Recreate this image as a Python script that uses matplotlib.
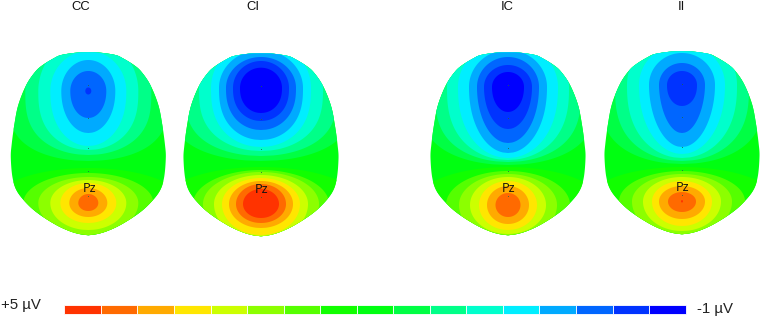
import matplotlib
matplotlib.use("Agg")
import matplotlib.pyplot as plt
from matplotlib.patches import Polygon
import numpy as np

plt.rcParams['font.family'] = ['Liberation Sans', 'DejaVu Sans']

# bandas de color, de -1 uV (azul) a +5 uV (rojo)
band_colors = ['#0000ff', '#0033ff', '#0066ff', '#00aaff', '#00eeff', '#00ffcc',
               '#00ff88', '#00ff44', '#00ff11', '#11ff00', '#55ff00', '#8cff00',
               '#ccff00', '#ffe600', '#ffaa00', '#ff6a00', '#ff3300']
base_band = 8

conditions = ['CC', 'CI', 'IC', 'II']
centers = [88.3, 261, 508, 682]
offsets = [0, 1, 0, -1]

# isolineas leidas de la imagen
# zona frontal: (banda, arriba, abajo, media anchura, forma), de fuera a dentro
cc_front = [(7, 10, 161, 80, 3.5), (6, 25, 155, 63, 2.9), (5, 38, 150, 50, 2.6), (4, 51, 146, 38, 2.3),
            (3, 60, 133, 27, 2.1), (2, 71, 118, 18, 2.1), (1, 87.5, 94.5, 3, 2)]
ci_front = [(7, 0, 161, 92, 3.5), (6, 15, 156, 76, 3.2), (5, 28, 151, 62, 2.8), (4, 40, 147, 50, 2.6),
            (3, 50, 140, 42, 2.5), (2, 57, 130, 35, 2.4), (1, 61, 121, 28, 2.4), (0, 67.7, 113, 21, 2.3)]
ic_front = [(7, 0, 165, 88, 3.5), (6, 15, 162, 73, 3.1), (5, 30, 160, 61, 2.6), (4, 42, 158, 50, 2.3),
            (3, 50, 153, 39, 2.1), (2, 57, 143, 31, 2.0), (1, 65, 129, 24, 2.0), (0, 72, 112, 16, 2.1)]
ii_front = [(7, 3, 164, 82, 3.3), (6, 18, 161, 67, 2.8), (5, 32, 158, 55, 2.4), (4, 44, 154, 43, 2.1),
            (3, 53, 147, 33, 1.9), (2, 63, 133, 23, 1.8), (1, 71, 106, 15, 2.2)]
front_mid = [91, 88, 87, 85]

# zona parietal: (banda, arriba, abajo, media anchura), de fuera a dentro
cc_back = [(9, 168, 260, 95), (10, 173, 242, 65), (11, 177, 235, 50), (12, 180, 230, 38),
           (13, 183, 223, 28), (14, 188, 217, 19), (15, 194, 211, 10)]
ci_back = [(9, 167, 265, 100), (10, 170, 252, 68), (11, 172, 246, 58), (12, 175, 240, 47),
           (13, 178, 235, 39), (14, 181, 228, 32), (15, 184, 223, 25), (16, 189, 218, 18)]
ic_back = [(9, 167, 260, 95), (10, 171, 247, 62), (11, 174, 240, 49), (12, 177, 234, 38),
           (13, 181, 230, 29), (14, 186, 224, 21), (15, 193, 217, 12.5)]
ii_back = [(9, 167, 258, 95), (10, 171, 245, 63), (11, 174, 237, 50), (12, 177, 231, 39),
           (13, 181, 226, 30), (14, 186, 219, 23), (15, 192, 212, 14), (16, 200, 202.5, 1)]
back_mid = [203, 204, 205, 201.5]

fronts = [cc_front, ci_front, ic_front, ii_front]
backs = [cc_back, ci_back, ic_back, ii_back]

# contorno de la cabeza: (y, media anchura) en pixeles, para CC
outline_y = [52.3, 52.7, 55, 58.3, 65, 71.7, 85, 105, 125, 145, 158, 178, 191.7, 205, 215, 225, 231, 234, 235.3]
outline_w = [0, 12, 27, 34.5, 45.5, 53, 62, 70, 74, 76.7, 77.5, 75.7, 71, 60, 48, 32, 19, 9, 0]

# electrodos visibles sobre la linea media
electrode_y = [85, 118, 148, 171, 196]


def suavizar(x, y, n=12):
    # Catmull-Rom para que el contorno no quede con esquinas
    p = np.column_stack([x, y])
    p = np.vstack([2 * p[0] - p[1], p, 2 * p[-1] - p[-2]])
    out = []
    for i in range(1, len(p) - 2):
        for t in np.linspace(0, 1, n, endpoint=False):
            out.append(0.5 * (2 * p[i] + (p[i + 1] - p[i - 1]) * t
                              + (2 * p[i - 1] - 5 * p[i] + 4 * p[i + 1] - p[i + 2]) * t ** 2
                              + (3 * p[i] - p[i - 1] - 3 * p[i + 1] + p[i + 2]) * t ** 3))
    out.append(p[-2])
    return np.array(out)


def huevo(cx, mid, top, bottom, width, forma=2.0):
    # curva cerrada: elipse arriba, punta mas o menos marcada abajo
    t = np.linspace(0, np.pi / 2, 80)
    y_up = mid - (mid - top) * np.cos(t)
    w_up = width * np.sin(t)
    s = np.linspace(0, 1, 120)
    y_dn = mid + (bottom - mid) * s
    w_dn = width * np.sqrt(np.clip(1 - s ** forma, 0, 1))
    ys = np.concatenate([y_up, y_dn])
    ws = np.concatenate([w_up, w_dn])
    return np.vstack([np.column_stack([cx + ws, ys]), np.column_stack([cx - ws[::-1], ys[::-1]])])


fig = plt.figure(figsize=(7.65, 3.2), dpi=100)
ax = fig.add_axes([0, 0, 1, 1])
ax.set_xlim(0, 765)
ax.set_ylim(320, 0)
ax.axis('off')

half = suavizar(outline_y, outline_w)

for i, name in enumerate(conditions):
    cx = centers[i]
    dy = offsets[i]
    head = np.vstack([np.column_stack([cx + half[:, 1], half[:, 0] + dy]),
                      np.column_stack([cx - half[::-1, 1], half[::-1, 0] + dy])])
    patch = Polygon(head, closed=True, facecolor=band_colors[base_band], edgecolor='none')
    ax.add_patch(patch)
    for band, top, bottom, width, forma in fronts[i]:
        p = Polygon(huevo(cx, front_mid[i], top, bottom, width, forma), closed=True,
                    facecolor=band_colors[band], edgecolor='none')
        ax.add_patch(p)
        p.set_clip_path(patch)
    for band, top, bottom, width in backs[i]:
        p = Polygon(huevo(cx, back_mid[i], top, bottom, width), closed=True,
                    facecolor=band_colors[band], edgecolor='none')
        ax.add_patch(p)
        p.set_clip_path(patch)
    ax.scatter([cx] * len(electrode_y), np.array(electrode_y) + dy, s=0.5, color='#226644', linewidths=0, alpha=0.7)
    ax.text(cx - 8 if name in ('CC', 'CI') else cx - 1, 7.5, name, ha='center', va='center', fontsize=9.4, color='#111111')
    ax.text(cx + 1, 188.5 + dy, 'Pz', ha='center', va='center', fontsize=9.2,
            family=['Open Sans', 'DejaVu Sans'], color='#111111')

# barra de colores
n = len(band_colors)
ancho = (685.7 - 64.3) / n
for i, c in enumerate(band_colors[::-1]):
    ax.barh(309.5, ancho, left=64.3 + i * ancho, height=8.6, color=c, edgecolor='white', linewidth=0.6)

ax.text(1, 304.5, '+5 µV', ha='left', va='center', fontsize=10.8, color='#222222')
ax.text(697, 309, '-1 µV', ha='left', va='center', fontsize=10.8, color='#222222')

fig.savefig('out.png', dpi=100)
